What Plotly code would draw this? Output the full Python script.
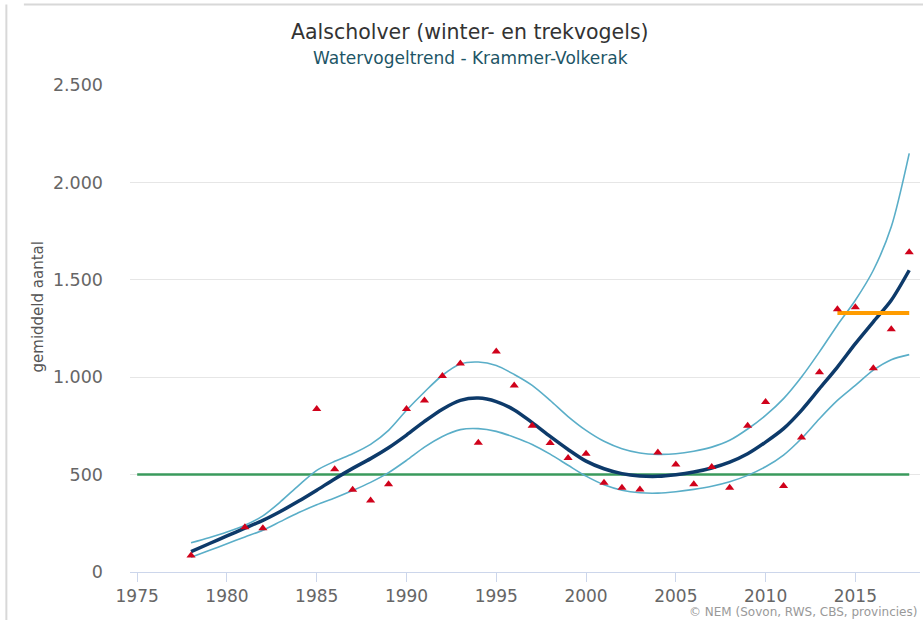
import plotly.graph_objects as go

# Observed yearly averages (red triangles)
obs_years = [1978, 1981, 1982, 1985, 1986, 1987, 1988, 1989, 1990, 1991, 1992,
             1993, 1994, 1995, 1996, 1997, 1998, 1999, 2000, 2001, 2002, 2003,
             2004, 2005, 2006, 2007, 2008, 2009, 2010, 2011, 2012, 2013, 2014,
             2015, 2016, 2017, 2018]
obs_values = [85, 230, 224, 837, 528, 422, 367, 450, 837, 880, 1006,
              1070, 664, 1132, 958, 751, 662, 585, 607, 458, 433, 424,
              614, 552, 451, 539, 433, 751, 873, 441, 690, 1025, 1349,
              1359, 1046, 1246, 1642]

# Smoothed trend with its confidence band
trend_years = list(range(1978, 2019))
trend = [105, 145, 185, 225, 265, 312, 364, 420, 478, 532, 582,
         638, 703, 773, 836, 881, 893, 875, 832, 767, 696,
         629, 569, 530, 505, 493, 491, 499, 513, 534, 564,
         607, 667, 736, 830, 941, 1052, 1172, 1284, 1395, 1549]
upper = [150, 176, 205, 240, 288, 362, 445, 522, 568, 607, 655,
         727, 830, 924, 1010, 1068, 1078, 1060, 1014, 958, 881,
         798, 727, 671, 633, 611, 604, 607, 620, 641, 676,
         734, 804, 890, 1001, 1130, 1267, 1395, 1549, 1772, 2149]
lower = [76, 110, 145, 180, 214, 260, 305, 345, 380, 418, 460,
         510, 573, 641, 696, 731, 736, 722, 692, 655, 605,
         548, 492, 448, 420, 407, 405, 412, 424, 440, 463,
         496, 540, 600, 685, 787, 881, 958, 1036, 1090, 1116]

# Reference level and recent-period mean
ref_years = [1975, 2018]
ref_values = [500, 500]
recent_years = [2014, 2018]
recent_values = [1330, 1330]

y_ticks = [0, 500, 1000, 1500, 2000, 2500]
y_tick_text = ["0", "500", "1.000", "1.500", "2.000", "2.500"]
x_ticks = [1975, 1980, 1985, 1990, 1995, 2000, 2005, 2010, 2015]

FONT = "DejaVu Sans"
BAND = "#5aaec8"
SPLINE = dict(shape="spline", smoothing=0.8)

fig = go.Figure()

fig.add_trace(go.Scatter(x=ref_years, y=ref_values, mode="lines",
                         line=dict(color="#3a9a5c", width=2.5),
                         hoverinfo="skip", showlegend=False))
fig.add_trace(go.Scatter(x=trend_years, y=upper, mode="lines",
                         line=dict(color=BAND, width=1.6, **SPLINE),
                         showlegend=False))
fig.add_trace(go.Scatter(x=trend_years, y=lower, mode="lines",
                         line=dict(color=BAND, width=1.6, **SPLINE),
                         showlegend=False))
fig.add_trace(go.Scatter(x=trend_years, y=trend, mode="lines",
                         line=dict(color="#0d3a6a", width=3.5, **SPLINE),
                         showlegend=False))
fig.add_trace(go.Scatter(x=recent_years, y=recent_values, mode="lines",
                         line=dict(color="#ff9c00", width=4),
                         showlegend=False))
fig.add_trace(go.Scatter(x=obs_years, y=obs_values, mode="markers",
                         marker=dict(symbol="triangle-up", size=8, color="#d0021b"),
                         showlegend=False))

fig.update_layout(
    width=923, height=620,
    margin=dict(l=130, r=3, t=85, b=48),
    paper_bgcolor="white", plot_bgcolor="white",
    font=dict(family=FONT, color="#666666"),
    xaxis=dict(range=[1974.6, 2018.6], tickvals=x_ticks, showgrid=False,
               zeroline=False, showline=True, linecolor="#ccd6eb", linewidth=1,
               ticks="outside", ticklen=9, tickcolor="#ccd6eb",
               tickfont=dict(size=17, color="#666666")),
    yaxis=dict(range=[0, 2500], tickvals=y_ticks, ticktext=y_tick_text,
               showgrid=True, gridcolor="#e6e6e6", gridwidth=1, zeroline=False,
               showline=False, ticks="", ticklabelstandoff=26,
               tickfont=dict(size=17.5, color="#666666")),
    shapes=[
        dict(type="line", xref="paper", yref="paper", x0=-0.1343, x1=1.01,
             y0=1.1652, y1=1.1652, line=dict(color="#d8d8d8", width=2)),
        dict(type="line", xref="paper", yref="paper", x0=-0.1565, x1=-0.1565,
             y0=-0.2, y1=1.1652, line=dict(color="#d8d8d8", width=2)),
    ],
    annotations=[
        dict(text="Aalscholver (winter- en trekvogels)", xref="paper", yref="paper",
             x=(470 - 130) / 790, y=(571 - 32) / 486, xanchor="center", yanchor="middle",
             showarrow=False, font=dict(size=20.5, color="#333333", family=FONT)),
        dict(text="Watervogeltrend - Krammer-Volkerak", xref="paper", yref="paper",
             x=(470 - 130) / 790, y=(571 - 58) / 486, xanchor="center", yanchor="middle",
             showarrow=False, font=dict(size=17, color="#1d5566", family=FONT)),
        dict(text="gemiddeld aantal", xref="paper", yref="paper",
             x=(38 - 130) / 790, y=(571 - 307) / 486, xanchor="center", yanchor="middle",
             textangle=-90, showarrow=False,
             font=dict(size=15, color="#555555", family=FONT)),
        dict(text="© NEM (Sovon, RWS, CBS, provincies)", xref="paper", yref="paper",
             x=(919 - 130) / 790, y=(571 - 611) / 486, xanchor="right", yanchor="middle",
             showarrow=False, font=dict(size=12, color="#999999", family=FONT)),
    ],
)

fig.write_html("out.html")
